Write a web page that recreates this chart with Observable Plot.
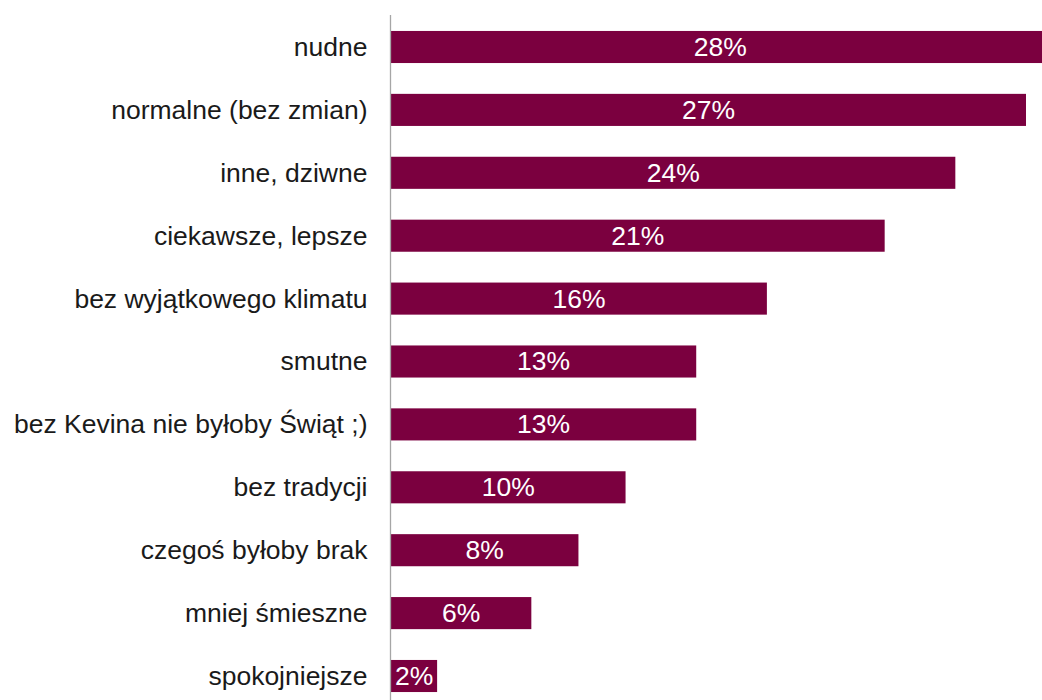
<!DOCTYPE html>
<html>
<head>
<meta charset="utf-8">
<script src="https://cdn.jsdelivr.net/npm/d3@7"></script>
<script src="https://cdn.jsdelivr.net/npm/@observablehq/plot@0.6"></script>
<style>
  html, body { margin: 0; padding: 0; background: #fff; overflow: hidden; }
  #chart svg { display: block; }
</style>
</head>
<body>
<div id="chart"></div>
<script>
const categories = [
  "nudne",
  "normalne (bez zmian)",
  "inne, dziwne",
  "ciekawsze, lepsze",
  "bez wyjątkowego klimatu",
  "smutne",
  "bez Kevina nie byłoby Świąt ;)",
  "bez tradycji",
  "czegoś byłoby brak",
  "mniej śmieszne",
  "spokojniejsze"
];
const values = [28, 27, 24, 21, 16, 13, 13, 10, 8, 6, 2];

const data = categories.map((c, i) => ({category: c, value: values[i]}));

const chart = Plot.plot({
  width: 1042,
  height: 700,
  marginLeft: 390,
  marginRight: 0,
  marginTop: 15,
  marginBottom: 0,
  style: {fontFamily: "'Liberation Sans', Arial, sans-serif", fontSize: "26.5px", color: "#1a1a1a", background: "#fff"},
  x: {domain: [0, 27], range: [390, 1026], axis: null},
  y: {domain: categories, range: [15.55, 707.45], paddingInner: 0.49, paddingOuter: 0.245, round: false, label: null},
  marks: [
    Plot.barX(data, {x: "value", y: "category", fill: "#7b003f"}),
    Plot.ruleX([0], {stroke: "#a6a6a6", strokeWidth: 1.3}),
    Plot.axisY({tickSize: 0, tickPadding: 23, label: null, fontSize: 26.5, fill: "#1a1a1a"}),
    Plot.text(data, {x: d => d.value / 2, y: "category", text: d => d.value + "%", fill: "white", fontSize: 26.5})
  ]
});
document.getElementById("chart").appendChild(chart);
</script>
</body>
</html>
